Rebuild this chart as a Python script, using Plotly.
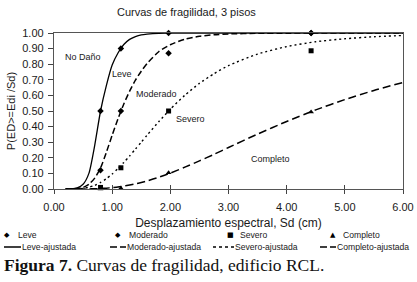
import plotly.graph_objects as go

# ---------------- data ----------------
sd_obs = [0.80, 1.15, 1.97, 4.42]
leve_obs = [0.50, 0.90, 1.00, 1.00]
moderado_obs = [0.12, 0.50, 0.87, 1.00]
severo_obs = [0.01, 0.136, 0.50, 0.886]
completo_obs = [0.00, 0.005, 0.104, 0.494]

sd_fit = [0.2, 0.3, 0.4, 0.5, 0.6, 0.7, 0.8, 0.9, 1.0, 1.1, 1.2, 1.3, 1.4, 1.5, 1.6,
          1.8, 2.0, 2.25, 2.5, 2.75, 3.0, 3.5, 4.0, 4.5, 5.0, 5.5, 6.0]
leve_fit = [0.0, 0.0002, 0.007, 0.03, 0.10, 0.28, 0.50, 0.663, 0.795, 0.872, 0.926, 0.959, 0.977,
            0.988, 0.993, 0.998, 0.999, 1.0, 1.0, 1.0, 1.0, 1.0, 1.0, 1.0, 1.0, 1.0, 1.0]
moderado_fit = [0.0, 0.0002, 0.003, 0.01, 0.03, 0.07, 0.135, 0.235, 0.345, 0.45, 0.545, 0.627, 0.698,
                0.755, 0.805, 0.88, 0.925, 0.96, 0.979, 0.989, 0.994, 0.998, 0.999, 1.0, 1.0, 1.0, 1.0]
severo_fit = [0.0, 0.0, 0.001, 0.004, 0.011, 0.023, 0.042, 0.066, 0.096, 0.131, 0.17, 0.212, 0.256,
              0.30, 0.345, 0.431, 0.512, 0.601, 0.677, 0.739, 0.791, 0.865, 0.913, 0.944, 0.963,
              0.976, 0.984]
completo_fit = [0.0, 0.0, 0.0001, 0.0003, 0.0007, 0.0017, 0.003, 0.0056, 0.009, 0.013, 0.019, 0.025,
                0.033, 0.042, 0.052, 0.075, 0.102, 0.14, 0.18, 0.222, 0.266, 0.352, 0.433, 0.507,
                0.573, 0.632, 0.683]

x_ticks = [0, 1, 2, 3, 4, 5, 6]
y_ticks = [0.0, 0.1, 0.2, 0.3, 0.4, 0.5, 0.6, 0.7, 0.8, 0.9, 1.0]

region_labels = ["No Daño", "Leve", "Moderado", "Severo", "Completo"]
region_x = [0.50, 1.17, 1.77, 2.35, 3.72]
region_y = [0.845, 0.74, 0.61, 0.45, 0.19]

# ---------------- layout geometry (pixels) ----------------
W, H = 417, 282
L, R, T, B = 54, 403, 33, 189
PW, PH = R - L, B - T


def px(x):
    return (x - L) / PW


def py(y):
    return (B - y) / PH


FONT = "Arial, Liberation Sans, sans-serif"
INK = "#1a1a1a"
LEG = 8.6

fig = go.Figure()

line_styles = [
    ("Leve-ajustada", leve_fit, "solid", 1.3),
    ("Moderado-ajustada", moderado_fit, "6px,3px", 1.5),
    ("Severo-ajustada", severo_fit, "2px,3px", 1.4),
    ("Completo-ajustada", completo_fit, "8px,4px", 1.5),
]
for name, ys, dash, w in line_styles:
    fig.add_trace(go.Scatter(x=sd_fit, y=ys, mode="lines", name=name,
                             line=dict(color="black", width=w, dash=dash, shape="spline",
                                       smoothing=0.6),
                             showlegend=False, cliponaxis=False))

marker_styles = [
    ("Leve", leve_obs, "diamond", 5),
    ("Moderado", moderado_obs, "diamond", 5),
    ("Severo", severo_obs, "square", 5),
    ("Completo", completo_obs, "triangle-up", 5),
]
for name, ys, sym, s in marker_styles:
    fig.add_trace(go.Scatter(x=sd_obs, y=ys, mode="markers", name=name,
                             marker=dict(symbol=sym, size=s, color="black"),
                             showlegend=False, cliponaxis=False))

# invisible trace to activate overlay axis for crossing x ticks
fig.add_trace(go.Scatter(x=[0, 6], y=[0, 0], xaxis="x2", mode="lines",
                         line=dict(width=0), hoverinfo="skip", showlegend=False))

annotations = []
for t, xv, yv in zip(region_labels, region_x, region_y):
    annotations.append(dict(x=xv, y=yv, xref="x", yref="y", text=t, showarrow=False,
                            font=dict(family=FONT, size=9, color=INK)))

# legend (manual)
row1_y, row2_y = 235, 247
glyphs = [("◆", 7, "Leve", 16), ("◆", 118, "Moderado", 127),
          ("■", 230, "Severo", 238), ("▲", 333, "Completo", 341)]
for g, gx, t, tx in glyphs:
    annotations.append(dict(x=px(gx), y=py(row1_y), xref="paper", yref="paper", text=g,
                            showarrow=False, xanchor="center", yanchor="middle",
                            font=dict(family="DejaVu Sans", size=7, color="black")))
    annotations.append(dict(x=px(tx), y=py(row1_y), xref="paper", yref="paper", text=t,
                            showarrow=False, xanchor="left", yanchor="middle",
                            font=dict(family=FONT, size=LEG, color=INK)))

samples = [(4, 21, "Leve-ajustada", "solid"), (110, 126, "Moderado-ajustada", "7px,3px"),
           (213, 234, "Severo-ajustada", "3px,3px"), (320, 336, "Completo-ajustada", "7px,3px")]
shapes = []
for x0, x1, t, dash in samples:
    shapes.append(dict(type="line", xref="paper", yref="paper", x0=px(x0), x1=px(x1),
                       y0=py(row2_y), y1=py(row2_y), line=dict(color="black", width=1.5, dash=dash)))
    annotations.append(dict(x=px(x1 - 1), y=py(row2_y), xref="paper", yref="paper", text=t,
                            showarrow=False, xanchor="left", yanchor="middle",
                            font=dict(family=FONT, size=LEG, color=INK)))

# caption
annotations.append(dict(x=px(2), y=py(265), xref="paper", yref="paper",
                        text="<b>Figura 7.</b> Curvas de fragilidad, edificio RCL.",
                        showarrow=False, xanchor="left", yanchor="middle",
                        font=dict(family="Liberation Serif, Times New Roman, serif", size=17.5,
                                  color="#111")))

fig.update_layout(
    width=W, height=H,
    margin=dict(l=L, r=W - R, t=T, b=H - B, pad=0, autoexpand=False),
    paper_bgcolor="white", plot_bgcolor="white",
    title=dict(text="Curvas de fragilidad, 3 pisos", x=px(210), xanchor="center",
               y=1 - 12 / H, yanchor="middle",
               font=dict(family=FONT, size=11, color=INK)),
    xaxis=dict(range=[0, 6], tickvals=x_ticks, tickformat=".2f", ticks="outside", ticklen=4,
               tickcolor="#444", showline=True, linecolor="#555", linewidth=1.3, mirror=True,
               showgrid=False, zeroline=False, ticklabelstandoff=4, automargin=False,
               tickfont=dict(family=FONT, size=11, color=INK),
               title=dict(text="Desplazamiento espectral, Sd (cm)", standoff=6,
                          font=dict(family=FONT, size=12, color=INK))),
    xaxis2=dict(range=[0, 6], tickvals=x_ticks, ticks="inside", ticklen=4, tickcolor="#444",
                showticklabels=False, overlaying="x", anchor="y", side="bottom",
                showline=False, showgrid=False, zeroline=False, automargin=False),
    yaxis=dict(range=[0, 1], tickvals=y_ticks, tickformat=".2f", ticks="outside", ticklen=5,
               tickcolor="#444", showline=True, linecolor="#555", linewidth=1.3, mirror=True,
               showgrid=False, zeroline=False, ticklabelstandoff=2, automargin=False,
               tickfont=dict(family=FONT, size=11, color=INK),
               title=dict(text="P(ED>=Edi /Sd)", standoff=4,
                          font=dict(family=FONT, size=11, color=INK))),
    annotations=annotations,
    shapes=shapes,
    showlegend=False,
)

fig.write_html("out.html", config={"displayModeBar": False},
               post_script="document.body.style.margin='0px';")
